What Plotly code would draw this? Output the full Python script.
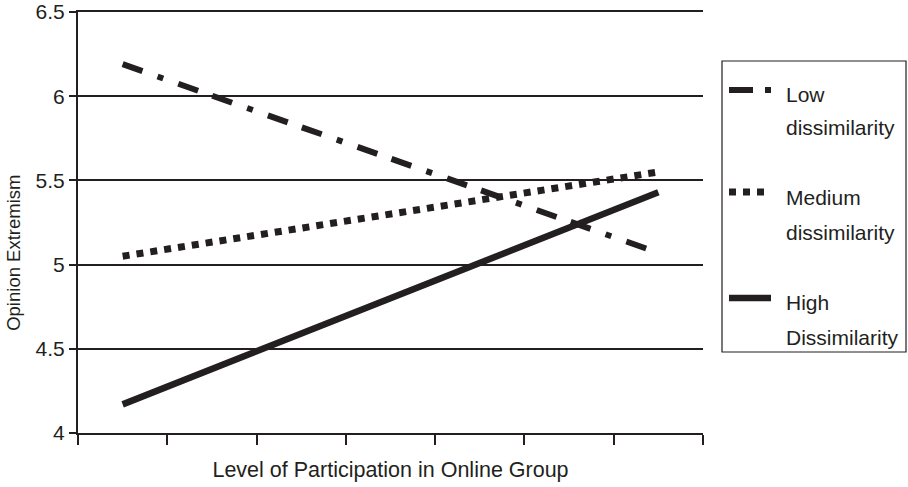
import plotly.graph_objects as go

# Data
participation = [0.5, 6.5]           # position of low / high participation on the x scale
low_dissim = [6.19, 5.07]
medium_dissim = [5.05, 5.55]
high_dissim = [4.17, 5.43]
series_names = ["Low<br>dissimilarity", "Medium<br>dissimilarity", "High<br>Dissimilarity"]
y_ticks = [4, 4.5, 5, 5.5, 6, 6.5]
y_ticklabels = ["4", "4.5", "5", "5.5", "6", "6.5"]
x_ticks = [0, 1, 2, 3, 4, 5, 6, 7]
x_title = "Level of Participation in Online Group"
y_title = "Opinion Extremism"

INK = "#231f20"
FONT = "Liberation Sans, Arial, sans-serif"
FS = 21
DASH_LOW = "21px,16px,6px,16px,21px,15px"
DASH_MED = "7px,7px"

fig = go.Figure()
fig.add_trace(go.Scatter(x=participation, y=low_dissim, mode="lines",
                         line=dict(color=INK, width=6, dash=DASH_LOW), showlegend=False))
fig.add_trace(go.Scatter(x=participation, y=medium_dissim, mode="lines",
                         line=dict(color=INK, width=7, dash=DASH_MED), showlegend=False))
fig.add_trace(go.Scatter(x=participation, y=high_dissim, mode="lines",
                         line=dict(color=INK, width=6.5), showlegend=False))

# Manual legend (paper coordinates)
shapes = [dict(type="rect", xref="paper", yref="paper", x0=1.0304, x1=1.3248,
               y0=0.1924, y1=0.8836, line=dict(color=INK, width=1.2), fillcolor="white")]
legend_rows = [
    (0.8147, 0.8029, 0.7245, dict(color=INK, width=6, dash="24px,12px,6px,40px")),
    (0.5724, 0.5582, 0.4774, dict(color=INK, width=7, dash=DASH_MED)),
    (0.3207, 0.3088, 0.2280, dict(color=INK, width=6.5)),
]
annotations = []
for (ys, yt1, yt2, ln), name in zip(legend_rows, series_names):
    shapes.append(dict(type="line", xref="paper", yref="paper", x0=1.0416, x1=1.1088,
                       y0=ys, y1=ys, line=ln))
    l1, l2 = name.split("<br>")
    for yy, txt in ((yt1, l1), (yt2, l2)):
        annotations.append(dict(xref="paper", yref="paper", x=1.1290, y=yy, text=txt,
                                showarrow=False, xanchor="left", yanchor="middle",
                                font=dict(family=FONT, size=FS, color=INK)))

# y-axis title (placed as rotated text, slightly below the plot centre as in the reference)
annotations.append(dict(xref="paper", yref="paper", x=-0.1024, y=0.428, text=y_title,
                        textangle=-90, showarrow=False, xanchor="center", yanchor="middle",
                        font=dict(family=FONT, size=18.5, color=INK)))

fig.update_layout(
    width=908, height=487,
    margin=dict(l=78, r=205, t=12, b=54),
    paper_bgcolor="white", plot_bgcolor="white",
    font=dict(family=FONT, size=FS, color=INK),
    shapes=shapes, annotations=annotations,
    showlegend=False,
)
fig.update_xaxes(range=[0, 7], tickvals=x_ticks, ticktext=[""] * len(x_ticks),
                 ticks="outside", ticklen=10, tickwidth=2, tickcolor=INK, automargin=False,
                 showline=True, mirror=True, linecolor=INK, linewidth=2,
                 showgrid=False, zeroline=False,
                 title=dict(text=x_title, standoff=14,
                            font=dict(family=FONT, size=21.5, color=INK)))
fig.update_yaxes(range=[4, 6.5], tickvals=y_ticks, ticktext=y_ticklabels,
                 ticks="outside", ticklen=7, tickwidth=2, tickcolor=INK, automargin=False,
                 showline=True, linecolor=INK, linewidth=2,
                 showgrid=True, gridcolor=INK, gridwidth=2, zeroline=False,
                 tickfont=dict(family=FONT, size=FS, color=INK))

fig.write_html("out.html", config={"displayModeBar": False},
               post_script="document.body.style.margin='0';")
